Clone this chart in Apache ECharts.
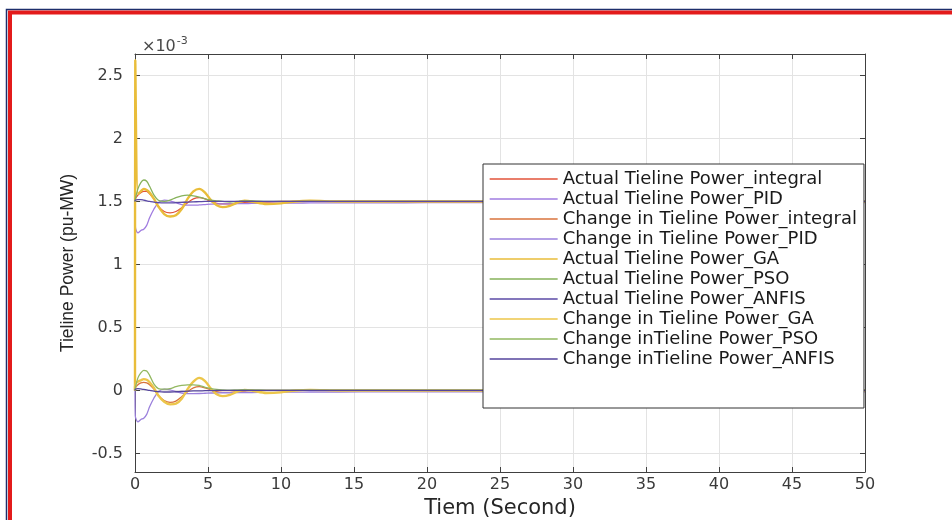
<!DOCTYPE html>
<html>
<head>
<meta charset="utf-8">
<script src="https://cdn.jsdelivr.net/npm/echarts@6/dist/echarts.min.js"></script>
<style>
  html, body { margin: 0; padding: 0; background: #ffffff; }
  #chart { width: 952px; height: 520px; }
</style>
</head>
<body>
<div id="chart"></div>
<script>
// Simulation time (s)
const time = [0, 0.02, 0.2, 0.4, 0.6,
  0.8, 1.0, 1.3, 1.6, 2.0,
  2.4, 2.8, 3.2, 3.6, 4.0,
  4.4, 4.8, 5.2, 5.6, 6.0,
  6.5, 7.0, 7.5, 8.0, 9.0,
  10, 11, 12, 14, 17,
  20, 25, 30, 40, 50];

// Tie-line power, x10^-3 pu-MW
const actualIntegral = [1.5, 1.52, 1.55, 1.57, 1.58,
  1.58, 1.56, 1.52, 1.46, 1.42,
  1.41, 1.42, 1.45, 1.49, 1.52,
  1.53, 1.52, 1.5, 1.485, 1.48,
  1.48, 1.485, 1.49, 1.495, 1.495,
  1.5, 1.5, 1.5, 1.5, 1.5,
  1.5, 1.5, 1.5, 1.5, 1.5];

const actualPID = [1.5, 1.3, 1.25, 1.27, 1.28,
  1.31, 1.37, 1.44, 1.49, 1.51,
  1.505, 1.49, 1.475, 1.47, 1.47,
  1.472, 1.475, 1.478, 1.48, 1.48,
  1.48, 1.482, 1.483, 1.484, 1.485,
  1.486, 1.487, 1.488, 1.488, 1.489,
  1.49, 1.49, 1.49, 1.49, 1.49];

const changeIntegral = [0, 0.02, 0.045, 0.06, 0.065,
  0.06, 0.045, 0.01, -0.04, -0.08,
  -0.095, -0.085, -0.05, -0.01, 0.02,
  0.03, 0.02, 0.005, -0.01, -0.015,
  -0.015, -0.01, -0.005, 0, 0,
  0, 0, 0, 0, 0,
  0, 0, 0, 0, 0];

const changePID = [0, -0.2, -0.25, -0.23, -0.22,
  -0.19, -0.13, -0.06, -0.01, 0.01,
  0.005, -0.01, -0.02, -0.025, -0.025,
  -0.024, -0.022, -0.02, -0.02, -0.018,
  -0.018, -0.017, -0.016, -0.016, -0.015,
  -0.014, -0.013, -0.012, -0.012, -0.011,
  -0.01, -0.01, -0.01, -0.01, -0.01];

const actualGA = [0, 2.62, 1.56, 1.58, 1.6,
  1.59, 1.57, 1.52, 1.46, 1.4,
  1.38, 1.39, 1.44, 1.52, 1.58,
  1.6, 1.57, 1.51, 1.47, 1.455,
  1.465, 1.49, 1.505, 1.5, 1.48,
  1.485, 1.5, 1.505, 1.5, 1.5,
  1.5, 1.5, 1.5, 1.5, 1.5];

const actualPSO = [1.5, 1.52, 1.6, 1.65, 1.67,
  1.66, 1.62, 1.55, 1.51, 1.5,
  1.51, 1.53, 1.545, 1.55, 1.545,
  1.535, 1.52, 1.51, 1.505, 1.5,
  1.495, 1.5, 1.505, 1.505, 1.5,
  1.5, 1.5, 1.5, 1.5, 1.5,
  1.5, 1.5, 1.5, 1.5, 1.5];

const actualANFIS = [1.5, 1.51, 1.515, 1.515, 1.51,
  1.505, 1.5, 1.495, 1.49, 1.488,
  1.488, 1.49, 1.492, 1.495, 1.497,
  1.498, 1.5, 1.5, 1.5, 1.5,
  1.5, 1.5, 1.5, 1.5, 1.5,
  1.5, 1.5, 1.5, 1.5, 1.5,
  1.5, 1.5, 1.5, 1.5, 1.5];

const changeGA = [0, 0.05, 0.07, 0.08, 0.09,
  0.085, 0.065, 0.02, -0.04, -0.09,
  -0.11, -0.105, -0.065, 0.01, 0.07,
  0.1, 0.075, 0.015, -0.03, -0.045,
  -0.035, -0.01, 0.005, 0, -0.02,
  -0.015, 0, 0.005, 0, 0,
  0, 0, 0, 0, 0];

const changePSO = [0, 0.02, 0.1, 0.14, 0.16,
  0.155, 0.12, 0.05, 0.015, 0.01,
  0.015, 0.03, 0.04, 0.045, 0.045,
  0.04, 0.025, 0.015, 0.008, 0.005,
  0.003, 0.005, 0.006, 0.005, 0.003,
  0.002, 0.002, 0.002, 0.002, 0.002,
  0.002, 0.002, 0.002, 0.002, 0.002];

const changeANFIS = [0, 0.01, 0.015, 0.012, 0.008,
  0.004, 0, -0.005, -0.01, -0.012,
  -0.012, -0.01, -0.008, -0.006, -0.004,
  -0.003, -0.002, -0.001, 0, 0,
  0, 0, 0, 0, 0,
  0, 0, 0, 0, 0,
  0, 0, 0, 0, 0];

const yTicks = [-0.5, 0, 0.5, 1, 1.5, 2, 2.5];

const seriesDefs = [
  { name: 'Actual Tieline Power_integral', data: actualIntegral, color: '#e2533a', width: 1.3 },
  { name: 'Actual Tieline Power_PID', data: actualPID, color: '#a07ce0', width: 1.3 },
  { name: 'Change in Tieline Power_integral', data: changeIntegral, color: '#d8733c', width: 1.3 },
  { name: 'Change in Tieline Power_PID', data: changePID, color: '#9b80dc', width: 1.3 },
  { name: 'Actual Tieline Power_GA', data: actualGA, color: '#e9bd3a', width: 2.4 },
  { name: 'Actual Tieline Power_PSO', data: actualPSO, color: '#86b25a', width: 1.3 },
  { name: 'Actual Tieline Power_ANFIS', data: actualANFIS, color: '#5b4aa6', width: 1.3 },
  { name: 'Change in Tieline Power_GA', data: changeGA, color: '#ecc64a', width: 2.4 },
  { name: 'Change inTieline Power_PSO', data: changePSO, color: '#92b860', width: 1.3 },
  { name: 'Change inTieline Power_ANFIS', data: changeANFIS, color: '#54449c', width: 1.3 }
];

const Y_MIN = -0.647, Y_MAX = 2.67;
const axisColor = '#404040';
const labelFont = 'DejaVu Sans';

const chart = echarts.init(document.getElementById('chart'), null, { renderer: 'canvas' });

chart.setOption({
  backgroundColor: '#ffffff',
  animation: false,
  title: {
    left: 137, top: 31,
    text: '{x|×10}{s|-3}',
    textStyle: {
      fontWeight: 'normal',
      rich: {
        x: { fontFamily: labelFont, fontSize: 16, fontWeight: 'normal', color: '#4a4a4a', verticalAlign: 'bottom' },
        s: { fontFamily: labelFont, fontSize: 11, fontWeight: 'normal', color: '#4a4a4a', verticalAlign: 'top', padding: [0, 0, 8, 1] }
      }
    }
  },
  graphic: [
    { type: 'rect', shape: { x: 6.5, y: 9.5, width: 1000, height: 600 }, style: { fill: 'none', stroke: '#1d2e6b', lineWidth: 1.5 }, silent: true },
    { type: 'rect', shape: { x: 10, y: 12.5, width: 1000, height: 600 }, style: { fill: 'none', stroke: '#e31b1b', lineWidth: 4 }, silent: true }
  ],
  grid: { left: 135, right: 87, top: 54, bottom: 48, containLabel: false, outerBoundsMode: 'none' },
  legend: {
    orient: 'vertical',
    left: 483, top: 164,
    padding: [6, 7, 40, 6],
    itemWidth: 68, itemHeight: 14, itemGap: 2,
    backgroundColor: '#ffffff',
    borderColor: '#333333', borderWidth: 1,
    lineStyle: { width: 1.3 },
    itemStyle: { opacity: 0, color: 'transparent', borderWidth: 0 },
    textStyle: { fontFamily: labelFont, fontSize: 18, color: '#1a1a1a' },
    data: seriesDefs.map(s => s.name)
  },
  xAxis: [
    {
      type: 'value', min: 0, max: 50, interval: 5,
      name: 'Tiem (Second)', nameLocation: 'middle', nameGap: 25,
      nameTextStyle: { fontFamily: labelFont, fontSize: 21, color: '#262626' },
      axisLine: { show: true, onZero: false, lineStyle: { color: axisColor, width: 1 } },
      axisTick: { show: true, inside: true, length: 5, lineStyle: { color: axisColor } },
      axisLabel: { fontFamily: labelFont, fontSize: 16, color: '#3a3a3a', margin: 5 },
      splitLine: { show: true, lineStyle: { color: '#e3e3e3', width: 1 } }
    },
    {
      type: 'value', min: 0, max: 50, interval: 5, position: 'top',
      axisLine: { show: true, onZero: false, lineStyle: { color: axisColor, width: 1 } },
      axisTick: { show: true, inside: true, length: 5, lineStyle: { color: axisColor } },
      axisLabel: { show: false },
      splitLine: { show: false }
    }
  ],
  yAxis: [
    {
      type: 'value', min: Y_MIN, max: Y_MAX,
      name: 'Tieline Power (pu-MW)', nameLocation: 'middle', nameGap: 58,
      nameTextStyle: { fontFamily: 'Liberation Sans', fontSize: 17.5, color: '#262626' },
      axisLine: { show: true, onZero: false, lineStyle: { color: axisColor, width: 1 } },
      axisTick: { show: true, inside: true, length: 5, customValues: yTicks, lineStyle: { color: axisColor } },
      axisLabel: { fontFamily: labelFont, fontSize: 16, color: '#3a3a3a', margin: 12, customValues: yTicks },
      splitLine: { show: true, lineStyle: { color: '#e3e3e3', width: 1 } }
    },
    {
      type: 'value', min: Y_MIN, max: Y_MAX, position: 'right',
      axisLine: { show: true, onZero: false, lineStyle: { color: axisColor, width: 1 } },
      axisTick: { show: true, inside: true, length: 5, customValues: yTicks, lineStyle: { color: axisColor } },
      axisLabel: { show: false },
      splitLine: { show: false }
    }
  ],
  series: seriesDefs.map(s => ({
    name: s.name,
    type: 'line',
    xAxisIndex: 0, yAxisIndex: 0,
    symbol: 'none',
    smooth: 0.3,
    clip: true,
    color: s.color,
    lineStyle: { color: s.color, width: s.width },
    data: time.map((t, i) => [t, s.data[i]])
  }))
});
</script>
</body>
</html>
